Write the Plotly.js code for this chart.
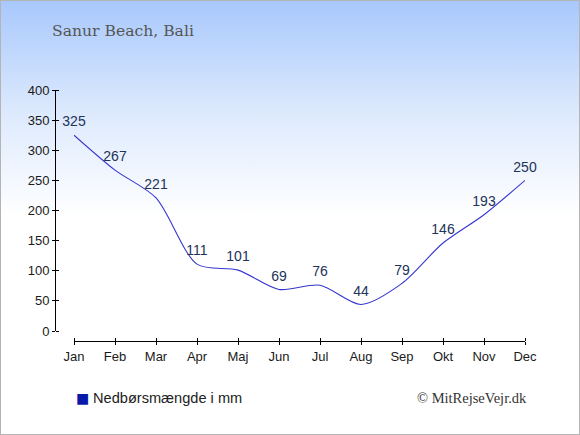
<!DOCTYPE html>
<html><head><meta charset="utf-8">
<script src="https://cdn.plot.ly/plotly-3.0.1.min.js"></script>
<style>
html,body{margin:0;padding:0;}
#wrap{position:relative;width:578px;height:433px;border:1px solid #b4b4b4;background:linear-gradient(to bottom,#a8c8fc 0px,#dce9fd 110px,#ffffff 215px,#ffffff 100%);}
#chart{position:absolute;left:-1px;top:-1px;width:580px;height:435px;}
</style></head>
<body><div id="wrap"><div id="chart"></div></div>
<script>
var months = ["Jan","Feb","Mar","Apr","Maj","Jun","Jul","Aug","Sep","Okt","Nov","Dec"];
var rain = [325,267,221,111,101,69,76,44,79,146,193,250];
var yTicks = [0,50,100,150,200,250,300,350,400];
var seriesName = "Nedbørsmængde i mm";

var trace = {
  x: months, y: rain, type: 'scatter', mode: 'lines+markers+text',
  line: {color: '#3535d0', width: 1.1, shape: 'spline', smoothing: 0.8},
  marker: {size: 7, color: 'rgba(0,0,0,0)'},
  text: rain.map(String), textposition: 'top center',
  textfont: {family: 'Liberation Sans, Arial, sans-serif', size: 14, color: '#223358'},
  showlegend: false, hoverinfo: 'none', cliponaxis: false
};

var tickFont = {family: 'Liberation Sans, Arial, sans-serif', size: 13, color: '#1a1a1a'};

var layout = {
  width: 580, height: 435,
  paper_bgcolor: 'rgba(0,0,0,0)', plot_bgcolor: 'rgba(0,0,0,0)',
  margin: {l: 55, r: 55, t: 90, b: 94},
  showlegend: false,
  xaxis: {
    type: 'category', range: [0, 11], domain: [19/470, 1],
    anchor: 'free', position: 0,
    showgrid: false, zeroline: false, showline: true, linecolor: '#000', linewidth: 1,
    ticks: 'outside', ticklen: 3, tickcolor: '#000',
    minor: {ticks: 'inside', ticklen: 3, tickcolor: '#000', dtick: 1, showgrid: false},
    tickfont: tickFont
  },
  yaxis: {
    range: [0, 400], domain: [10/251, 1],
    anchor: 'free', position: 0,
    tickvals: yTicks, ticktext: yTicks.map(String),
    showgrid: false, zeroline: false, showline: true, linecolor: '#000', linewidth: 1,
    ticks: 'outside', ticklen: 3, tickcolor: '#000',
    minor: {ticks: 'inside', ticklen: 3, tickcolor: '#000', tickvals: yTicks, showgrid: false},
    tickfont: tickFont
  },
  annotations: [
    {text: 'Sanur Beach, Bali', xref: 'paper', yref: 'paper', x: -0.01, y: 1,
     xanchor: 'left', yanchor: 'middle', yshift: 59, xshift: 0, showarrow: false,
     font: {family: 'DejaVu Serif, serif', size: 15.6, color: '#555555'}},
    {text: '■', xref: 'paper', yref: 'paper', x: 0, y: 0, xanchor: 'left', yanchor: 'middle',
     xshift: 19, yshift: -57, showarrow: false,
     font: {family: 'DejaVu Sans, sans-serif', size: 14, color: '#0a1aa8'}},
    {text: seriesName, xref: 'paper', yref: 'paper', x: 0, y: 0, xanchor: 'left', yanchor: 'middle',
     xshift: 36, yshift: -57, showarrow: false,
     font: {family: 'Liberation Sans, Arial, sans-serif', size: 14.6, color: '#222'}},
    {text: '© MitRejseVejr.dk', xref: 'paper', yref: 'paper', x: 1, y: 0, xanchor: 'right', yanchor: 'middle',
     xshift: 4, yshift: -57, showarrow: false,
     font: {family: 'Liberation Serif, serif', size: 14.5, color: '#333'}}
  ]
};

Plotly.newPlot('chart', [trace], layout, {staticPlot: true, displayModeBar: false});
</script></body></html>
